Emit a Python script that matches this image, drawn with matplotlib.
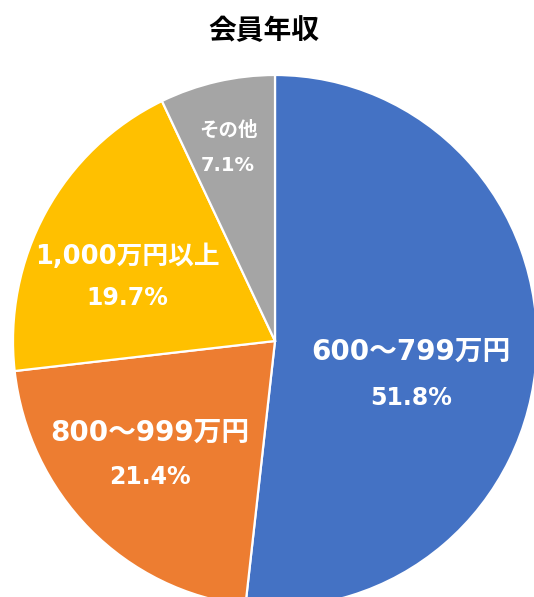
import matplotlib
matplotlib.use("Agg")
import matplotlib.pyplot as plt

plt.rcParams['font.family'] = ['DejaVu Sans', 'Noto Sans CJK JP']

# | Data |---------------------------------------------------------------------|
categories = ["600～799万円", "800～999万円", "1,000万円以上", "その他"]
shares     = [51.8, 21.4, 19.7, 7.1]
colors     = ["#4472C4", "#ED7D31", "#FFC000", "#A5A5A5"]

# label anchor (x, y) in pie radius units, plus font sizes
label_pos  = [(0.519, -0.041), (-0.477, -0.346), (-0.565, 0.316), (-0.179, 0.793)]
pct_gap    = [0.173, 0.165, 0.154, 0.132]
name_size  = [20, 20, 18.5, 14]
pct_size   = [17, 17, 17, 14]

# | Figure |-------------------------------------------------------------------|
W, H = 534, 597
fig = plt.figure(figsize=(W / 100, H / 100), dpi=100)

# the source pie is slightly taller than wide and runs off the bottom edge
cx, cy, rx, ry = 275, 341, 262, 266
ax = fig.add_axes([(cx - rx) / W, (H - cy - ry) / H, 2 * rx / W, 2 * ry / H])

ax.pie(shares, colors=colors, startangle=90, counterclock=False, radius=1,
       wedgeprops=dict(edgecolor='white', linewidth=1.6))
ax.set_xlim(-1, 1)
ax.set_ylim(-1, 1)
ax.set_aspect('auto')
ax.axis('off')

for name, pct, (x, y), gap, ns, ps in zip(categories, shares, label_pos, pct_gap, name_size, pct_size):
    ax.text(x, y, name, color='white', fontsize=ns, fontweight='bold',
            ha='center', va='center')
    ax.text(x, y - gap, f"{pct:.1f}%", color='white', fontsize=ps, fontweight='bold',
            ha='center', va='center')

fig.text(264 / W, 1 - 31 / H, "会員年収", fontsize=20, fontweight='bold',
         ha='center', va='center', family=['Noto Sans CJK JP'])

fig.savefig("out.png", dpi=100)
